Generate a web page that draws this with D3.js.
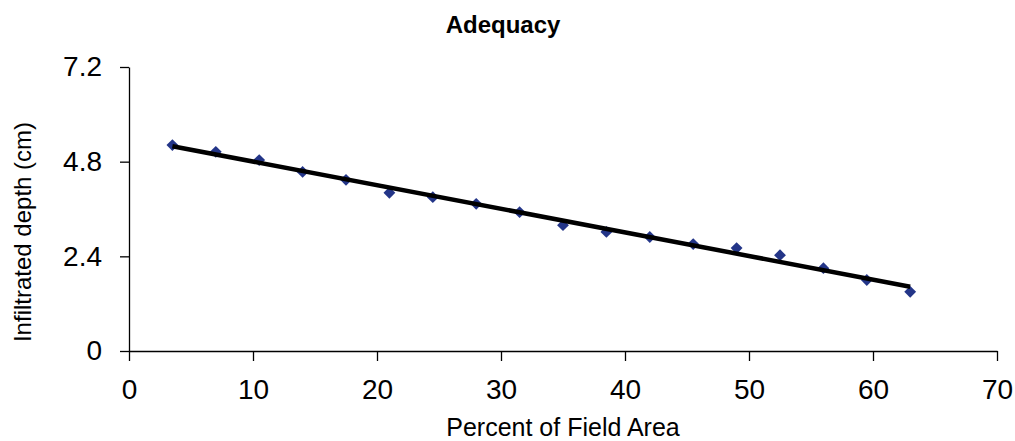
<!DOCTYPE html>
<html>
<head>
<meta charset="utf-8">
<script src="https://cdn.jsdelivr.net/npm/d3@7"></script>
<style>
  body { margin: 0; background: #fff; }
  svg text { font-family: "Liberation Sans", Arial, sans-serif; fill: #000; }
</style>
</head>
<body>
<svg id="chart" width="1015" height="441"></svg>
<script>
// percent of field area vs infiltrated depth
let percentArea = [3.5, 7, 10.5, 14, 17.5, 21, 24.5, 28, 31.5, 35, 38.5, 42, 45.5, 49, 52.5, 56, 59.5, 63];
let depthCm = [5.22, 5.05, 4.84, 4.54, 4.34, 4.01, 3.90, 3.73, 3.52, 3.19, 3.02, 2.89, 2.71, 2.61, 2.43, 2.10, 1.80, 1.50];
let xTicks = [0, 10, 20, 30, 40, 50, 60, 70];
let yTicks = [0, 2.4, 4.8, 7.2];

let svg = d3.select('#chart');
let plotLeft = 129, plotRight = 997, plotTop = 67, plotBottom = 351;

let x = d3.scaleLinear().domain([0, 70]).range([plotLeft, plotRight]);
let y = d3.scaleLinear().domain([0, 7.2]).range([plotBottom, plotTop]);

let points = percentArea.map((p, i) => ({ p: p, d: depthCm[i] }));

// linear trendline (least squares)
let mx = d3.mean(points, d => d.p), my = d3.mean(points, d => d.d);
let slope = d3.sum(points, d => (d.p - mx) * (d.d - my)) / d3.sum(points, d => (d.p - mx) ** 2);
let icpt = my - slope * mx;
let xEnds = d3.extent(percentArea);
let trend = xEnds.map(v => ({ p: v, d: icpt + slope * v }));

// axes
let xAxis = svg.append('g')
  .attr('transform', 'translate(0,' + plotBottom + ')')
  .call(d3.axisBottom(x).tickValues(xTicks).tickSize(10).tickSizeOuter(0).tickPadding(18));
let yAxis = svg.append('g')
  .attr('transform', 'translate(' + plotLeft + ',0)')
  .call(d3.axisLeft(y).tickValues(yTicks).tickSize(9).tickSizeOuter(0).tickPadding(18)
    .tickFormat(d => d === 0 ? '0' : d3.format('.1f')(d)));

[xAxis, yAxis].forEach(g => {
  g.select('.domain').attr('stroke', '#000').attr('stroke-width', 1.3);
  g.selectAll('.tick line').attr('stroke', '#000').attr('stroke-width', 1.3);
  g.selectAll('.tick text').style('font-size', '28px').attr('fill', '#000');
});

// markers
svg.append('g').selectAll('path')
  .data(points)
  .enter()
  .append('path')
  .attr('d', d3.symbol(d3.symbolSquare, 70))
  .attr('transform', d => 'translate(' + x(d.p) + ',' + y(d.d) + ') rotate(45)')
  .attr('fill', '#233588');

// trendline
svg.append('path')
  .datum(trend)
  .attr('fill', 'none')
  .attr('stroke', '#000')
  .attr('stroke-width', 4.5)
  .attr('d', d3.line().x(d => x(d.p)).y(d => y(d.d)));

// titles
svg.append('text')
  .attr('x', 503).attr('y', 33)
  .attr('text-anchor', 'middle')
  .style('font-size', '24px').style('font-weight', 'bold')
  .text('Adequacy');

svg.append('text')
  .attr('x', (plotLeft + plotRight) / 2).attr('y', 436)
  .attr('text-anchor', 'middle')
  .style('font-size', '25px')
  .text('Percent of Field Area');

svg.append('text')
  .attr('transform', 'translate(31,232) rotate(-90)')
  .attr('text-anchor', 'middle')
  .style('font-size', '24px')
  .text('Infiltrated depth (cm)');
</script>
</body>
</html>
